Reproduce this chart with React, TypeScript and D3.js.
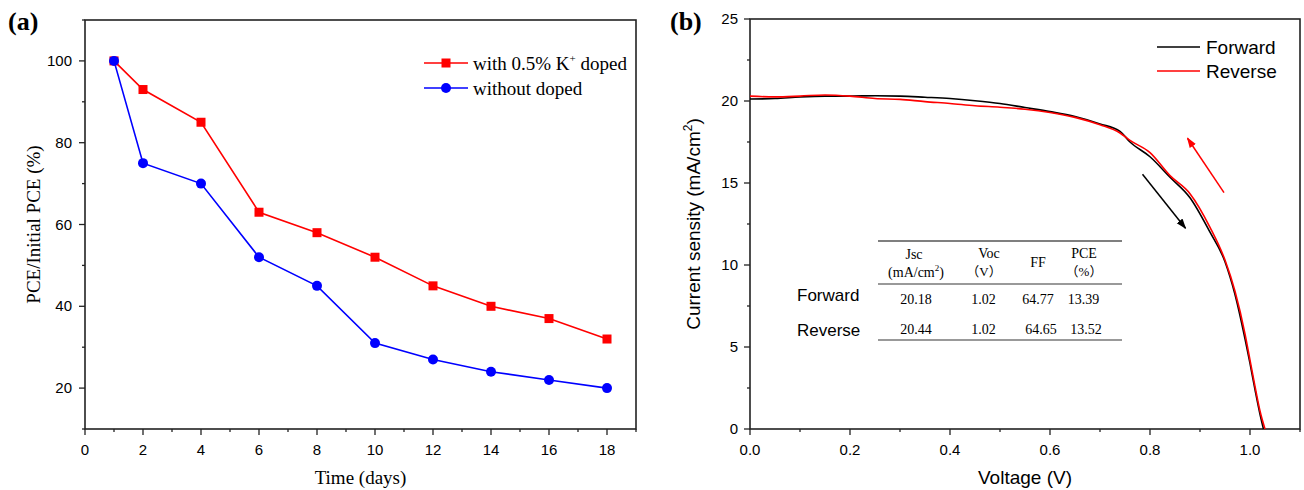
import React from 'react';
import * as d3 from 'd3';

// ---------- Panel (a) data ----------
const days = [1, 2, 4, 6, 8, 10, 12, 14, 16, 18];
const dopedPCE = [100, 93, 85, 63, 58, 52, 45, 40, 37, 32];
const undopedPCE = [100, 75, 70, 52, 45, 31, 27, 24, 22, 20];
const dayTicks = [0, 2, 4, 6, 8, 10, 12, 14, 16, 18];
const dayMinor = [1, 3, 5, 7, 9, 11, 13, 15, 17, 19];
const pceTicks = [20, 40, 60, 80, 100];
const pceMinor = [10, 30, 50, 70, 90, 110];

// ---------- Panel (b) data ----------
const fwdV = [0, 0.05, 0.1, 0.15, 0.2, 0.25, 0.3, 0.35, 0.4, 0.45, 0.5, 0.55, 0.6, 0.65, 0.7, 0.74, 0.76, 0.8, 0.84, 0.88, 0.92, 0.95, 0.97, 0.99, 1.0, 1.01, 1.02, 1.027];
const fwdJ = [20.12, 20.15, 20.25, 20.3, 20.3, 20.32, 20.3, 20.23, 20.15, 20.02, 19.85, 19.6, 19.35, 19.05, 18.6, 18.15, 17.5, 16.6, 15.35, 14.1, 12.0, 10.2, 8.2, 5.5, 4.0, 2.4, 0.9, 0];
const revV = [0, 0.05, 0.1, 0.15, 0.2, 0.25, 0.3, 0.35, 0.4, 0.45, 0.5, 0.55, 0.6, 0.65, 0.7, 0.74, 0.76, 0.8, 0.84, 0.88, 0.92, 0.95, 0.97, 0.99, 1.0, 1.01, 1.02, 1.03];
const revJ = [20.3, 20.25, 20.3, 20.37, 20.3, 20.15, 20.1, 19.96, 19.85, 19.71, 19.62, 19.5, 19.3, 19.0, 18.55, 18.05, 17.6, 16.85, 15.45, 14.35, 12.3, 10.3, 8.4, 5.8, 4.2, 2.6, 1.1, 0];
const voltTicks = [0, 0.2, 0.4, 0.6, 0.8, 1.0];
const voltMinor = [0.1, 0.3, 0.5, 0.7, 0.9, 1.1];
const jTicks = [0, 5, 10, 15, 20, 25];
const jMinor = [2.5, 7.5, 12.5, 17.5, 22.5];
const tableHead = [['Jsc', '(mA/cm', ')'], ['Voc', 'V'], ['FF'], ['PCE', '%']];
const tableRows = ['Forward', 'Reverse'];
const tableVals = [['20.18', '1.02', '64.77', '13.39'], ['20.44', '1.02', '64.65', '13.52']];

const SANS = 'Liberation Sans, Arial, sans-serif';
const SERIF = 'Liberation Serif, Times New Roman, serif';
const CJK = 'Noto Sans CJK SC';
const AX = '#222';

export default function App() {
  // scales (a)
  const xa = d3.scaleLinear().domain([0, 19]).range([85, 636]);
  const ya = d3.scaleLinear().domain([10, 110]).range([429, 20]);
  // scales (b)
  const xb = d3.scaleLinear().domain([0, 1.1]).range([750, 1300]);
  const yb = d3.scaleLinear().domain([0, 25]).range([429, 19]);

  const lineA = d3.line<number>().x((_, i) => xa(days[i])).y(d => ya(d));
  const lineFwd = d3.line<number>().x((_, i) => xb(fwdV[i])).y(d => yb(d)).curve(d3.curveMonotoneX);
  const lineRev = d3.line<number>().x((_, i) => xb(revV[i])).y(d => yb(d)).curve(d3.curveMonotoneX);

  const headX = [914, 986, 1038, 1084];
  const valX = [[916, 983.5, 1038, 1083.5], [916, 983.5, 1041, 1086]];

  return (
    <svg width={1304} height={490} style={{ position: 'absolute', left: 0, top: 0, background: '#fff' }}>
      <defs>
        <marker id="ahK" viewBox="0 0 10 10" refX="9" refY="5" markerWidth="7" markerHeight="7" orient="auto">
          <path d="M0,1.5 L10,5 L0,8.5 z" fill="#000" />
        </marker>
        <marker id="ahR" viewBox="0 0 10 10" refX="9" refY="5" markerWidth="7" markerHeight="7" orient="auto">
          <path d="M0,1.5 L10,5 L0,8.5 z" fill="#f00" />
        </marker>
      </defs>

      {/* ================= Panel (a) ================= */}
      <text x={8} y={30} fontFamily={SERIF} fontWeight="bold" fontSize={26}>(a)</text>
      <rect x={xa(0)} y={ya(110)} width={xa(19) - xa(0)} height={ya(10) - ya(110)} fill="none" stroke={AX} strokeWidth={1.6} />
      {dayTicks.map(t => (
        <g key={'xa' + t}>
          <line x1={xa(t)} x2={xa(t)} y1={ya(10)} y2={ya(10) + 6} stroke={AX} strokeWidth={1.3} />
          <text x={xa(t)} y={ya(10) + 26} textAnchor="middle" fontFamily={SANS} fontSize={15}>{t}</text>
        </g>
      ))}
      {dayMinor.map(t => (
        <line key={'xam' + t} x1={xa(t)} x2={xa(t)} y1={ya(10)} y2={ya(10) + 3} stroke={AX} strokeWidth={1.3} />
      ))}
      {pceTicks.map(t => (
        <g key={'ya' + t}>
          <line x1={xa(0) - 6} x2={xa(0)} y1={ya(t)} y2={ya(t)} stroke={AX} strokeWidth={1.3} />
          <text x={xa(0) - 13} y={ya(t) + 5} textAnchor="end" fontFamily={SANS} fontSize={15}>{t}</text>
        </g>
      ))}
      {pceMinor.map(t => (
        <line key={'yam' + t} x1={xa(0) - 3} x2={xa(0)} y1={ya(t)} y2={ya(t)} stroke={AX} strokeWidth={1.3} />
      ))}
      <text x={(xa(0) + xa(19)) / 2} y={484} textAnchor="middle" fontFamily={SERIF} fontSize={19}>Time (days)</text>
      <text transform={`translate(40,${(ya(10) + ya(110)) / 2}) rotate(-90)`} textAnchor="middle" fontFamily={SERIF} fontSize={19}>PCE/Initial PCE (%)</text>

      <path d={lineA(dopedPCE) || ''} fill="none" stroke="#f00" strokeWidth={1.6} />
      <path d={lineA(undopedPCE) || ''} fill="none" stroke="#00f" strokeWidth={1.6} />
      {dopedPCE.map((v, i) => (
        <rect key={'sq' + i} x={xa(days[i]) - 4.5} y={ya(v) - 4.5} width={9} height={9} fill="#f00" />
      ))}
      {undopedPCE.map((v, i) => (
        <circle key={'ci' + i} cx={xa(days[i])} cy={ya(v)} r={5} fill="#00f" />
      ))}

      {/* legend (a) */}
      <line x1={424} x2={468} y1={63} y2={63} stroke="#f00" strokeWidth={1.6} />
      <rect x={441.5} y={58.5} width={9} height={9} fill="#f00" />
      <text x={473} y={70} fontFamily={SERIF} fontSize={19}>
        with 0.5% K<tspan dy={-8} fontSize={11}>+</tspan><tspan dy={8}> doped</tspan>
      </text>
      <line x1={424} x2={468} y1={88} y2={88} stroke="#00f" strokeWidth={1.6} />
      <circle cx={446} cy={88} r={5} fill="#00f" />
      <text x={473} y={95} fontFamily={SERIF} fontSize={19}>without doped</text>

      {/* ================= Panel (b) ================= */}
      <text x={670} y={30} fontFamily={SERIF} fontWeight="bold" fontSize={26}>(b)</text>
      <rect x={xb(0)} y={yb(25)} width={xb(1.1) - xb(0)} height={yb(0) - yb(25)} fill="none" stroke={AX} strokeWidth={1.6} />
      {voltTicks.map(t => (
        <g key={'xb' + t}>
          <line x1={xb(t)} x2={xb(t)} y1={yb(0)} y2={yb(0) + 6} stroke={AX} strokeWidth={1.3} />
          <text x={xb(t)} y={yb(0) + 26} textAnchor="middle" fontFamily={SANS} fontSize={15}>{t.toFixed(1)}</text>
        </g>
      ))}
      {voltMinor.map(t => (
        <line key={'xbm' + t} x1={xb(t)} x2={xb(t)} y1={yb(0)} y2={yb(0) + 3} stroke={AX} strokeWidth={1.3} />
      ))}
      {jTicks.map(t => (
        <g key={'yb' + t}>
          <line x1={xb(0) - 6} x2={xb(0)} y1={yb(t)} y2={yb(t)} stroke={AX} strokeWidth={1.3} />
          <text x={xb(0) - 12} y={yb(t) + 5} textAnchor="end" fontFamily={SANS} fontSize={15}>{t}</text>
        </g>
      ))}
      {jMinor.map(t => (
        <line key={'ybm' + t} x1={xb(0) - 3} x2={xb(0)} y1={yb(t)} y2={yb(t)} stroke={AX} strokeWidth={1.3} />
      ))}
      <text x={(xb(0) + xb(1.1)) / 2} y={484} textAnchor="middle" fontFamily={SANS} fontSize={19}>Voltage (V)</text>
      <text transform={`translate(700,${(yb(0) + yb(25)) / 2}) rotate(-90)`} textAnchor="middle" fontFamily={SANS} fontSize={19}>
        Current sensity (mA/cm<tspan dy={-8} fontSize={12}>2</tspan><tspan dy={8}>)</tspan>
      </text>

      <path d={lineFwd(fwdJ) || ''} fill="none" stroke="#000" strokeWidth={1.6} />
      <path d={lineRev(revJ) || ''} fill="none" stroke="#f00" strokeWidth={1.6} />

      {/* arrows */}
      <line x1={xb(0.785)} y1={yb(15.53)} x2={xb(0.871)} y2={yb(12.24)} stroke="#000" strokeWidth={1.5} markerEnd="url(#ahK)" />
      <line x1={xb(0.948)} y1={yb(14.41)} x2={xb(0.875)} y2={yb(17.73)} stroke="#f00" strokeWidth={1.5} markerEnd="url(#ahR)" />

      {/* legend (b) */}
      <line x1={1157} x2={1200} y1={47} y2={47} stroke="#000" strokeWidth={1.6} />
      <text x={1206} y={54} fontFamily={SANS} fontSize={19}>Forward</text>
      <line x1={1157} x2={1200} y1={71} y2={71} stroke="#f00" strokeWidth={1.6} />
      <text x={1206} y={78} fontFamily={SANS} fontSize={19}>Reverse</text>

      {/* table */}
      <line x1={878} x2={1122} y1={241} y2={241} stroke="#555" strokeWidth={1.5} />
      <line x1={878} x2={1122} y1={284} y2={284} stroke="#777" strokeWidth={1.5} />
      <line x1={878} x2={1122} y1={340} y2={340} stroke="#777" strokeWidth={1.5} />
      <text x={headX[0]} y={259} textAnchor="middle" fontFamily={SERIF} fontSize={14}>{tableHead[0][0]}</text>
      <text x={headX[0] + 2} y={277} textAnchor="middle" fontFamily={SERIF} fontSize={14}>
        {tableHead[0][1]}<tspan dy={-6} fontSize={9}>2</tspan><tspan dy={6}>{tableHead[0][2]}</tspan>
      </text>
      <text x={headX[1] + 3} y={258} textAnchor="middle" fontFamily={SERIF} fontSize={14}>{tableHead[1][0]}</text>
      <text x={headX[1] - 2} y={276} textAnchor="middle" fontFamily={SERIF} fontSize={13}>
        <tspan fontFamily={CJK}>（</tspan>{tableHead[1][1]}<tspan fontFamily={CJK}>）</tspan>
      </text>
      <text x={headX[2]} y={267} textAnchor="middle" fontFamily={SERIF} fontSize={14}>{tableHead[2][0]}</text>
      <text x={headX[3]} y={258} textAnchor="middle" fontFamily={SERIF} fontSize={14}>{tableHead[3][0]}</text>
      <text x={headX[3]} y={276} textAnchor="middle" fontFamily={SERIF} fontSize={13}>
        <tspan fontFamily={CJK}>（</tspan>{tableHead[3][1]}<tspan fontFamily={CJK}>）</tspan>
      </text>
      {tableRows.map((r, i) => (
        <g key={'row' + r}>
          <text x={797} y={i === 0 ? 301 : 336} fontFamily={SANS} fontSize={17}>{r}</text>
          {tableVals[i].map((v, j) => (
            <text key={j} x={valX[i][j]} y={i === 0 ? 304 : 334} textAnchor="middle" fontFamily={SERIF} fontSize={14}>{v}</text>
          ))}
        </g>
      ))}
    </svg>
  );
}
